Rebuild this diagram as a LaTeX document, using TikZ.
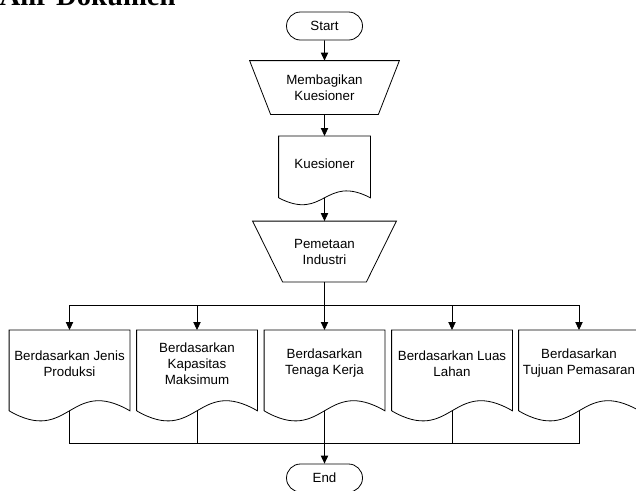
\documentclass[tikz,border=0pt]{standalone}
\usepackage{fontspec}
\setmainfont{Liberation Sans}
\newfontfamily\titleserif{Liberation Serif}
\usetikzlibrary{shapes.misc,arrows.meta,calc}
\begin{document}
\begin{tikzpicture}[x=0.75pt,y=-0.75pt,
  line width=0.6pt,
  every node/.style={font=\fontsize{10}{12}\selectfont, align=center, inner sep=0pt},
  terminal/.style={rounded rectangle, draw, minimum width=57pt, minimum height=21pt},
  docbox/.style={rectangle, minimum width=90pt, minimum height=49.5pt, anchor=north},
  arr/.style={-{Triangle[length=6pt,width=5.5pt]}}
]
\useasboundingbox (0,0) rectangle (636,490);
\clip (0,0) rectangle (636,490);

\node[anchor=base east, font=\titleserif\bfseries\fontsize{21.5}{24}\selectfont] (title) at (176,5) {Alir Dokumen};

\node[terminal] (start) at (324.5,26) {Start};

\node[minimum width=111.75pt, minimum height=39.75pt] (m) at (324.5,87.5) {Membagikan\\Kuesioner};
\draw (m.north west) -- (m.north east) -- ($(m.south east)+(-21,0)$) -- ($(m.south west)+(21,0)$) -- cycle;

\node[minimum width=68.25pt, minimum height=40.5pt, anchor=north] (k) at (324.5,136) {Kuesioner};
\coordinate (kw) at ($(k.south)+(0,7)$);
\draw ($(k.south west)+(0,7)$) -- (k.north west) -- (k.north east) -- ($(k.south east)+(0,7)$)
  .. controls ($(kw)+(0,-24)$) and ($(kw)+(0,24)$) .. ($(k.south west)+(0,7)$);

\node[minimum width=107.25pt, minimum height=45pt] (p) at (324.5,251.5) {Pemetaan\\Industri};
\draw (p.north west) -- (p.north east) -- ($(p.south east)+(-30,0)$) -- ($(p.south west)+(30,0)$) -- cycle;

\node[docbox] (b1) at (69.5,330) {Berdasarkan Jenis\\Produksi};
\node[docbox] (b2) at (197,330) {Berdasarkan\\Kapasitas\\Maksimum};
\node[docbox] (b3) at (324.5,330) {Berdasarkan\\Tenaga Kerja};
\node[docbox] (b4) at (452,330) {Berdasarkan Luas\\Lahan};
\node[docbox] (b5) at (579,330) {Berdasarkan\\Tujuan Pemasaran};

\foreach \b in {b1,b2,b3,b4,b5} {
  \coordinate (\b w) at ($(\b.south)+(0,14)$);
  \draw ($(\b.south west)+(0,14)$) -- (\b.north west) -- (\b.north east) -- ($(\b.south east)+(0,14)$)
    .. controls ($(\b w)+(0,-35)$) and ($(\b w)+(0,35)$) .. ($(\b.south west)+(0,14)$);
}

\node[terminal] (end) at (324.5,478) {End};

\coordinate (split) at (324.5,305);
\coordinate (merge) at (324.5,443);

\draw[arr] (start) -- (m.north);
\draw[arr] (m.south) -- (k.north);
\draw[arr] (kw) -- (p.north);
\draw (p.south) -- (split);
\foreach \b in {b1,b2,b3,b4,b5} \draw[arr] (split) -| (\b.north);
\foreach \b in {b1,b2,b4,b5} \draw (\b w) |- (merge);
\draw[arr] (b3w) -- (end);
\end{tikzpicture}
\end{document}
